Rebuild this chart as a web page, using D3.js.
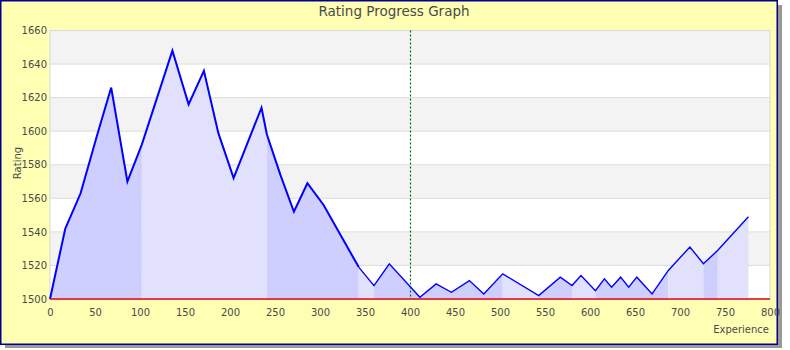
<!DOCTYPE html>
<html>
<head>
<meta charset="utf-8">
<script src="https://cdn.jsdelivr.net/npm/d3@7"></script>
<style>
  body { margin: 0; background: #fff; }
  svg { display: block; font-family: "DejaVu Sans", Verdana, sans-serif; }
</style>
</head>
<body>
<svg id="chart" width="790" height="350"></svg>
<script>
// experience / rating points
const experience = [0, 17, 34, 52, 68, 86, 102, 136, 154, 171, 187, 204, 235, 241, 256, 271, 286, 304,
  343, 360, 377, 411, 429, 446, 466, 482, 503, 543, 567, 580, 590, 606, 616, 624, 634, 643, 652, 669,
  687, 711, 726, 742, 776];
const rating = [1500, 1542, 1563, 1597, 1626, 1570, 1592, 1648, 1616, 1636, 1599, 1572, 1614, 1598, 1574, 1552, 1569, 1556,
  1519, 1508, 1521, 1501, 1509, 1504, 1511, 1503, 1515, 1502, 1513, 1508, 1514, 1505, 1512, 1507, 1513, 1507, 1513, 1503,
  1517, 1531, 1521, 1529, 1549];
// shaded stretches under the line (alternating)
const sessionBreaks = [0, 102, 241, 343, 360, 503, 543, 580, 606, 687, 726, 742, 776];
const markerExp = 400;
const xTicks = d3.range(0, 801, 50);
const yTicks = d3.range(1500, 1661, 20);

let points = experience.map((e, i) => ({ e: e, r: rating[i] }));

let svg = d3.select("#chart");
let x = d3.scaleLinear().domain([0, 800]).range([50, 770]);
let y = d3.scaleLinear().domain([1500, 1660]).range([299, 30.5]);

// frame + shadow
svg.append("rect").attr("x", 5).attr("y", 5).attr("width", 777).attr("height", 343).attr("fill", "#999");
svg.append("rect").attr("x", 0.75).attr("y", 0.75).attr("width", 776.5).attr("height", 343.5)
  .attr("fill", "#ffffb3").attr("stroke", "#00008b").attr("stroke-width", 1.5);

// background bands
for (let i = 0; i < yTicks.length - 1; i++) {
  svg.append("rect")
    .attr("x", x(0)).attr("width", x(800) - x(0))
    .attr("y", y(yTicks[i + 1])).attr("height", y(yTicks[i]) - y(yTicks[i + 1]))
    .attr("fill", (yTicks.length - 2 - i) % 2 === 0 ? "#f3f3f3" : "#ffffff");
}
svg.append("g").selectAll("line").data(yTicks.slice(1)).enter().append("line")
  .attr("x1", x(0)).attr("x2", x(800))
  .attr("y1", d => y(d)).attr("y2", d => y(d))
  .attr("stroke", "#dcdcdc");
svg.append("rect").attr("x", x(0)).attr("y", y(1660)).attr("width", x(800) - x(0)).attr("height", y(1500) - y(1660))
  .attr("fill", "none").attr("stroke", "#d8d8d8");

// shaded areas
let area = d3.area().x(d => x(d.e)).y0(y(1500)).y1(d => y(d.r));
for (let i = 0; i < sessionBreaks.length - 1; i++) {
  let a = sessionBreaks[i], b = sessionBreaks[i + 1];
  svg.append("path")
    .datum(points.filter(p => p.e >= a && p.e <= b))
    .attr("d", area)
    .attr("fill", i % 2 === 0 ? "#ceceff" : "#e1e1fd");
}

// marker line
svg.append("line")
  .attr("x1", Math.round(x(markerExp)) + 0.5).attr("x2", Math.round(x(markerExp)) + 0.5)
  .attr("y1", y(1660)).attr("y2", y(1500))
  .attr("stroke", "#007000").attr("stroke-width", 1.2).attr("stroke-dasharray", "2,2");

// rating line
let line = d3.line().x(d => x(d.e)).y(d => y(d.r));
svg.append("path").datum(points.filter(p => p.e <= 343)).attr("d", line)
  .attr("fill", "none").attr("stroke", "#0000ff").attr("stroke-width", 2);
svg.append("path").datum(points.filter(p => p.e >= 343)).attr("d", line)
  .attr("fill", "none").attr("stroke", "#0000ff").attr("stroke-width", 1.4);

// base line
svg.append("line").attr("x1", x(0)).attr("x2", x(800)).attr("y1", y(1500)).attr("y2", y(1500))
  .attr("stroke", "#e8001c").attr("stroke-width", 1.5);

// axes
let xAxis = svg.append("g").attr("transform", "translate(0," + y(1500) + ")")
  .call(d3.axisBottom(x).tickValues(xTicks).tickSize(0).tickPadding(10));
let yAxis = svg.append("g").attr("transform", "translate(" + x(0) + ",0)")
  .call(d3.axisLeft(y).tickValues(yTicks).tickSize(0).tickPadding(3).tickFormat(d3.format("d")));
[xAxis, yAxis].forEach(g => {
  g.select(".domain").remove();
  g.selectAll("text").attr("fill", "#4a4a4a").style("font-size", "10px").style("font-family", "DejaVu Sans");
});

// titles
svg.append("text").attr("x", 394).attr("y", 15.5).attr("text-anchor", "middle")
  .attr("fill", "#4a4a4a").style("font-size", "13.5px").text("Rating Progress Graph");
svg.append("text").attr("transform", "translate(21,163) rotate(-90)").attr("text-anchor", "middle")
  .attr("fill", "#4a4a4a").style("font-size", "10px").text("Rating");
svg.append("text").attr("x", 769).attr("y", 332.5).attr("text-anchor", "end")
  .attr("fill", "#4a4a4a").style("font-size", "10px").text("Experience");
</script>
</body>
</html>
